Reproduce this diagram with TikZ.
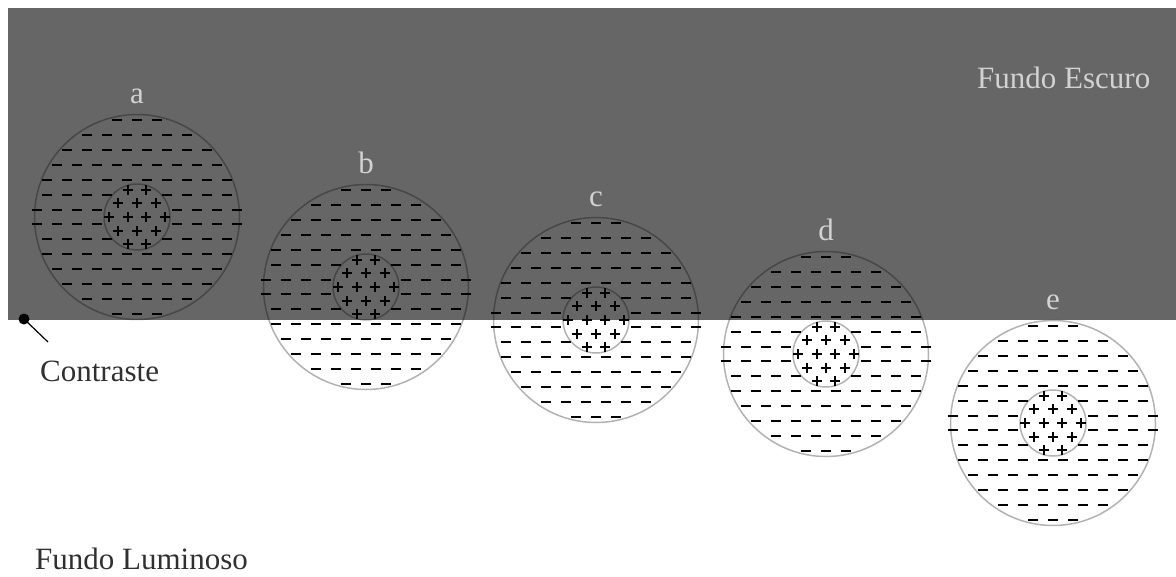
\documentclass[tikz,border=0pt]{standalone}
\usepackage{fontspec}
\setmainfont{Liberation Serif}
\usepackage{tikz}
\usetikzlibrary{positioning,calc}

\definecolor{darkbg}{HTML}{666666}
\definecolor{labgray}{HTML}{D2D2D2}
\definecolor{txtgray}{HTML}{303030}

\begin{document}
\begin{tikzpicture}[x=1pt,y=-1pt,
   font=\fontsize{31}{36}\selectfont,
   cell/.style={circle,draw=black,draw opacity=0.3,line width=1.5pt,minimum size=205pt,inner sep=0pt},
   core/.style={circle,draw=black,draw opacity=0.3,line width=1.5pt,minimum size=66pt,inner sep=0pt},
   lab/.style={text=labgray,inner sep=0pt,anchor=base},
   txt/.style={text=txtgray,inner sep=0pt,anchor=base west},
   minus/.style={line width=2pt},
   plus/.style={line width=1.6pt},
   dot/.style={circle,fill=black,minimum size=11pt,inner sep=0pt}]
  \useasboundingbox (0,0) rectangle (1176,576);
  % dark background
  \fill[darkbg] (8,8) rectangle (1176,320);
  \node[lab] (escuro) at (977,88) [anchor=base west] {Fundo Escuro};

  \foreach \nm/\cx/\cy in {a/137/217,b/366/287,c/596/320,d/826/354,e/1053/423}{
    \node[cell] (\nm) at (\cx,\cy) {};
    \node[core] (\nm core) at (\cx,\cy) {};
    \node[lab] (\nm lab) at (\cx,\cy-114) {\nm};
    \begin{scope}[shift={(\cx,\cy)}]
      % negative charges
      \foreach \n [count=\j from 0] in {3,6,8,9,10,10,11,11,10,10,9,8,6,3}{
        \pgfmathsetmacro\yy{round((\j-6.5)*14.85)}
        \foreach \i in {1,...,\n}{
          \pgfmathsetmacro\xx{round((\i-(\n+1)/2)*20)}
          \pgfmathtruncatemacro\keep{max(abs(\xx)-5,0)*max(abs(\xx)-5,0)+\yy*\yy>961}
          \ifnum\keep=1 \draw[minus] (\xx-5,\yy) -- (\xx+5,\yy);\fi
        }
      }
      % positive charges
      \foreach \n [count=\j from 0] in {2,3,4,3,2}{
        \pgfmathsetmacro\yy{round((\j-2)*13.7)}
        \foreach \i in {1,...,\n}{
          \pgfmathsetmacro\xx{round((\i-(\n+1)/2)*18.5)}
          \draw[plus] (\xx-5,\yy) -- (\xx+5,\yy) (\xx,\yy-5) -- (\xx,\yy+5);
        }
      }
    \end{scope}
  }

  % contrast marker
  \node[dot] (contr) at (24,319) {};
  \coordinate (contrtip) at (48,342);
  \draw[line width=1.2pt] (contr.center) -- (contrtip);
  \node[txt] (contrlab) at (40,381) {Contraste};
  \node[txt] (lumin) at (35,569) {Fundo Luminoso};
\end{tikzpicture}
\end{document}
